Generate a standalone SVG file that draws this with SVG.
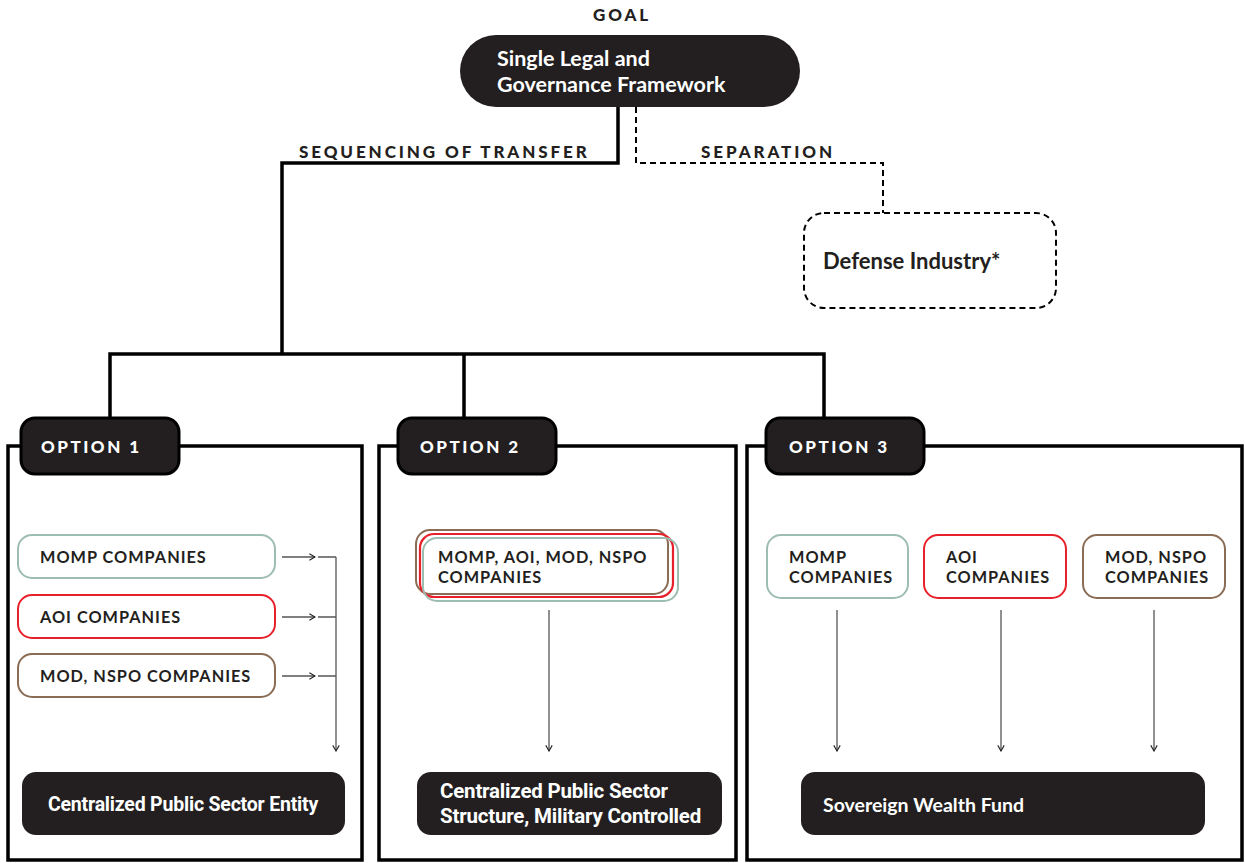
<svg xmlns="http://www.w3.org/2000/svg" width="1245" height="863" viewBox="0 0 1245 863">
<style>
.lbl{font-family:Lato,"Open Sans","Liberation Sans",sans-serif;font-weight:900;fill:#231f20;letter-spacing:2.9px;font-size:17px}
.wt{font-family:Lato,"Liberation Sans",sans-serif;font-weight:700;fill:#fff;font-size:21.5px}
.tab{fill:#231f20;stroke:#000;stroke-width:3}
.tabt{font-family:Lato,"Liberation Sans",sans-serif;font-weight:900;fill:#fff;font-size:17px;letter-spacing:2.5px}
.frame{fill:none;stroke:#000;stroke-width:3.5}
.co{font-family:Lato,"Liberation Sans",sans-serif;font-weight:700;fill:#231f20;font-size:16.3px;letter-spacing:1px}
.box{fill:#fff;stroke-width:2}
.teal{stroke:#9dbdb1}.red{stroke:#e8202a}.brown{stroke:#8b6c55}
.dark{fill:#231f20}
.cond{font-family:Roboto,"Liberation Sans",sans-serif;font-weight:700;fill:#fff;font-size:19.5px;letter-spacing:-0.2px}
.thin{fill:none;stroke:#555;stroke-width:1.3}
</style>
<defs>
<marker id="ah" viewBox="0 0 10 10" refX="9" refY="5" markerWidth="8" markerHeight="8" markerUnits="userSpaceOnUse" orient="auto">
<path d="M2,1 L9,5 L2,9" fill="none" stroke="#222" stroke-width="1.4"/>
</marker>
</defs>

<g id="connectors">
<path d="M618,107 V163 H282 V354" fill="none" stroke="#000" stroke-width="3.5"/>
<path d="M110,420 V354 H824 V420 M464,354 V420" fill="none" stroke="#000" stroke-width="3.5"/>
<path d="M636,107 V163 H883 V213" fill="none" stroke="#000" stroke-width="2" stroke-dasharray="6,4"/>
<text class="lbl" x="299" y="158">SEQUENCING OF TRANSFER</text>
<text class="lbl" x="701" y="158">SEPARATION</text>
<g class="thin">
<line x1="282" y1="557" x2="315" y2="557" marker-end="url(#ah)"/>
<line x1="282" y1="617" x2="315" y2="617" marker-end="url(#ah)"/>
<line x1="282" y1="676" x2="315" y2="676" marker-end="url(#ah)"/>
<path d="M318,557 H336 M318,617 H336 M318,676 H336"/>
<line x1="336" y1="557" x2="336" y2="751" marker-end="url(#ah)"/>
<line x1="549" y1="610" x2="549" y2="751" marker-end="url(#ah)"/>
<line x1="837" y1="610" x2="837" y2="751" marker-end="url(#ah)"/>
<line x1="1001" y1="610" x2="1001" y2="751" marker-end="url(#ah)"/>
<line x1="1154" y1="610" x2="1154" y2="751" marker-end="url(#ah)"/>
</g>
</g>

<g id="goal">
<text class="lbl" x="622" y="21" text-anchor="middle">GOAL</text>
<rect x="460" y="35" width="340" height="72" rx="36" class="dark"/>
<text class="wt" x="497" y="66">Single Legal and</text>
<text class="wt" x="497" y="92">Governance Framework</text>
</g>

<g id="defense">
<rect x="804" y="213" width="252" height="95" rx="20" fill="#fff" stroke="#000" stroke-width="2" stroke-dasharray="6,4"/>
<text x="823" y="269" style="font-family:Lato,'Liberation Sans',sans-serif;font-weight:700;font-size:22px;fill:#231f20">Defense Industry*</text>
</g>

<g id="option1">
<path class="frame" d="M20,446 H8 V860 H362 V446 H180"/>
<rect class="tab" x="21" y="418" width="158" height="56" rx="14"/>
<text class="tabt" x="41" y="453">OPTION 1</text>
<rect class="box teal" x="18" y="535" width="257" height="43" rx="14"/>
<text class="co" x="40" y="563">MOMP COMPANIES</text>
<rect class="box red" x="18" y="595" width="257" height="43" rx="14"/>
<text class="co" x="40" y="623">AOI COMPANIES</text>
<rect class="box brown" x="18" y="654" width="257" height="43" rx="14"/>
<text class="co" x="40" y="682">MOD, NSPO COMPANIES</text>
<rect class="dark" x="22" y="772" width="323" height="63" rx="14"/>
<text class="cond" x="183" y="811" text-anchor="middle">Centralized Public Sector Entity</text>
</g>

<g id="option2">
<path class="frame" d="M397,446 H379 V860 H736 V446 H557"/>
<rect class="tab" x="398" y="418" width="158" height="56" rx="14"/>
<text class="tabt" x="420" y="453">OPTION 2</text>
<rect class="box brown" x="416" y="530" width="252" height="64" rx="14"/>
<rect x="420" y="534" width="253" height="63" rx="14" fill="none" stroke="#e8202a" stroke-width="2.2"/>
<rect x="423" y="538" width="255" height="63" rx="14" fill="none" stroke="#9dbdb1" stroke-width="2"/>
<text class="co" x="438" y="563">MOMP, AOI, MOD, NSPO</text>
<text class="co" x="438" y="583">COMPANIES</text>
<rect class="dark" x="417" y="772" width="305" height="63" rx="14"/>
<text class="cond" x="440" y="798" style="font-size:20.5px">Centralized Public Sector</text>
<text class="cond" x="440" y="823" style="font-size:20.5px">Structure, Military Controlled</text>
</g>

<g id="option3">
<path class="frame" d="M765,446 H747 V860 H1242 V446 H925"/>
<rect class="tab" x="766" y="418" width="158" height="56" rx="14"/>
<text class="tabt" x="789" y="453">OPTION 3</text>
<rect class="box teal" x="767" y="535" width="141" height="63" rx="14"/>
<text class="co" x="789" y="563">MOMP</text>
<text class="co" x="789" y="583">COMPANIES</text>
<rect class="box red" x="924" y="535" width="142" height="63" rx="14"/>
<text class="co" x="946" y="563">AOI</text>
<text class="co" x="946" y="583">COMPANIES</text>
<rect class="box brown" x="1083" y="535" width="142" height="63" rx="14"/>
<text class="co" x="1105" y="563">MOD, NSPO</text>
<text class="co" x="1105" y="583">COMPANIES</text>
<rect class="dark" x="801" y="772" width="404" height="63" rx="14"/>
<text class="wt" x="823" y="812" style="font-size:19.5px">Sovereign Wealth Fund</text>
</g>
</svg>
